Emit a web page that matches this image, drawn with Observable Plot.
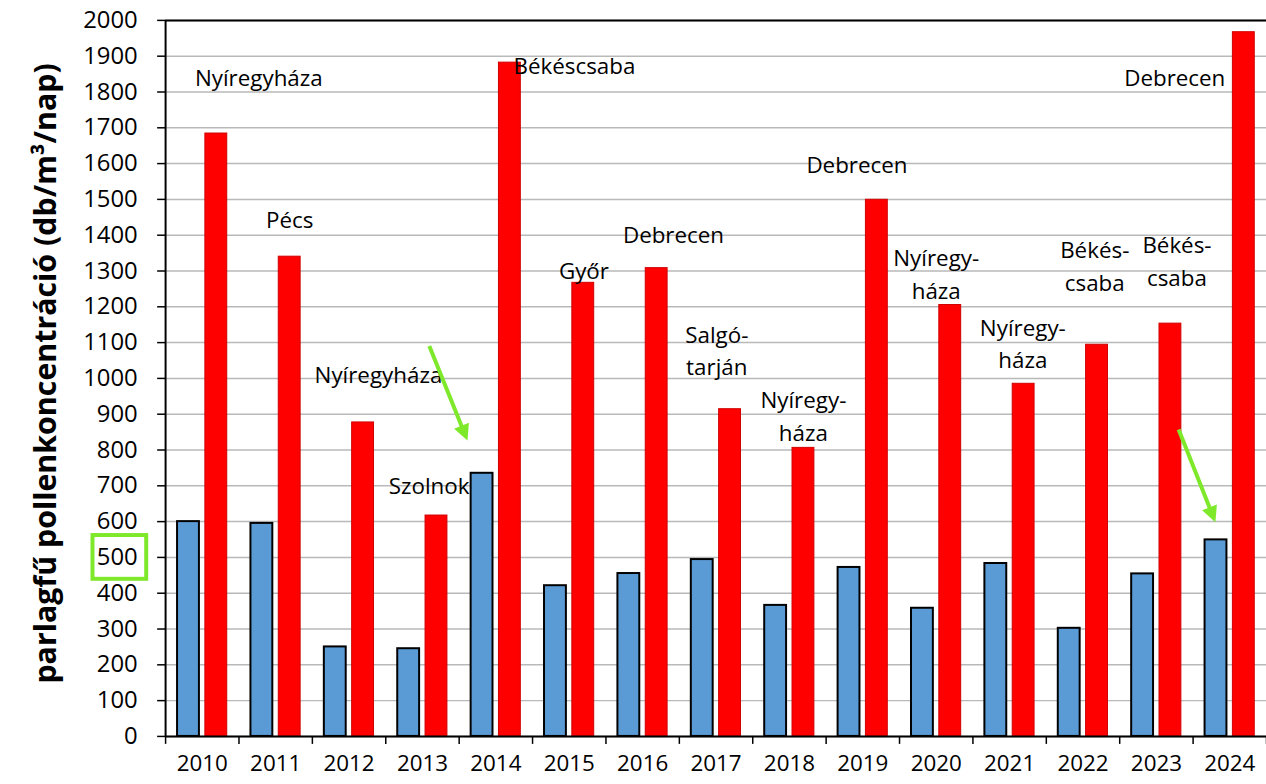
<!DOCTYPE html>
<html>
<head>
<meta charset="utf-8">
<script src="https://cdn.jsdelivr.net/npm/d3@7"></script>
<script src="https://cdn.jsdelivr.net/npm/@observablehq/plot@0.6"></script>
<style>
  html, body { margin: 0; padding: 0; background: #fff; overflow: hidden; }
  #chart svg { display: block; font-family: "Open Sans", sans-serif; }
</style>
</head>
<body>
<div id="chart"></div>
<script>
const years = [2010, 2011, 2012, 2013, 2014, 2015, 2016, 2017, 2018, 2019, 2020, 2021, 2022, 2023, 2024];
// Budapest (blue) and country maximum (red) daily ragweed pollen concentration
const blueValues = [600, 595, 250, 245, 735, 421, 455, 494, 366, 472, 358, 483, 302, 454, 549];
const redValues  = [1684, 1340, 877, 617, 1882, 1267, 1308, 914, 806, 1499, 1205, 985, 1094, 1153, 1967];
const yTicks = [0,100,200,300,400,500,600,700,800,900,1000,1100,1200,1300,1400,1500,1600,1700,1800,1900,2000];
const highlightTicks = [500];
const yLabel = "parlagfű pollenkoncentráció (db/m³/nap)";

const annotationTexts = ["Nyíregyháza", "Pécs", "Nyíregyháza", "Szolnok", "Békéscsaba", "Győr", "Debrecen",
  "Salgó-\ntarján", "Nyíregy-\nháza", "Debrecen", "Nyíregy-\nháza", "Nyíregy-\nháza", "Békés-\ncsaba", "Békés-\ncsaba", "Debrecen"];
const annotationX = [2010.77, 2011.19, 2012.40, 2013.09, 2015.07, 2015.20, 2016.42, 2017.01, 2018.19, 2018.92, 2020.00, 2021.18, 2022.16, 2023.28, 2023.25];
const annotationY = [1847, 1450, 1017, 706, 1878, 1306, 1408, 1083, 900, 1603, 1297, 1103, 1319, 1333, 1847];

const arrowX1 = [2013.10, 2023.31];
const arrowY1 = [1089, 856];
const arrowX2 = [2013.62, 2023.81];
const arrowY2 = [825, 597];

const blue = years.map((year, i) => ({year, value: blueValues[i]}));
const red = years.map((year, i) => ({year, value: redValues[i]}));
const annotations = annotationTexts.map((text, i) => ({text, x: annotationX[i], y: annotationY[i]}));
const arrows = arrowX1.map((x1, i) => ({x1, y1: arrowY1[i], x2: arrowX2[i], y2: arrowY2[i]}));
const boundaries = years.map(y => y - 0.5).concat([years[years.length - 1] + 0.5]);

const green = "#7ee82a";

const highlightMark = (index, scales) => {
  const g = d3.create("svg:g");
  for (const t of highlightTicks) {
    const cy = scales.y(t);
    g.append("rect")
      .attr("x", 93).attr("y", cy - 22)
      .attr("width", 54).attr("height", 44)
      .attr("fill", "none").attr("stroke", green).attr("stroke-width", 4);
  }
  return g.node();
};

const arrowMark = (index, scales) => {
  const g = d3.create("svg:g");
  for (const a of arrows) {
    const x1 = scales.x(a.x1), y1 = scales.y(a.y1), x2 = scales.x(a.x2), y2 = scales.y(a.y2);
    const len = Math.hypot(x2 - x1, y2 - y1);
    const ux = (x2 - x1) / len, uy = (y2 - y1) / len;
    const hl = 16, hw = 8;
    const bx = x2 - ux * hl, by = y2 - uy * hl;
    g.append("line").attr("x1", x1).attr("y1", y1).attr("x2", bx + ux * 2).attr("y2", by + uy * 2)
      .attr("stroke", green).attr("stroke-width", 4);
    g.append("polygon")
      .attr("points", [[x2, y2], [bx - uy * hw, by + ux * hw], [bx + uy * hw, by - ux * hw]].map(p => p.join(",")).join(" "))
      .attr("fill", green);
  }
  return g.node();
};

const chart = Plot.plot({
  width: 1273,
  height: 784,
  marginLeft: 166,
  marginRight: 0,
  marginTop: 20,
  marginBottom: 44,
  style: {fontFamily: "'Open Sans', sans-serif", color: "#000", background: "#fff"},
  x: {type: "linear", domain: [2009.5, 2024.5], axis: null, label: null},
  y: {domain: [0, 2000], axis: null, label: null},
  marks: [
    Plot.gridY(yTicks, {stroke: "#b9b9b9", strokeOpacity: 1, strokeWidth: 1.5}),
    Plot.rectY(blue, {x1: d => d.year - 0.337, x2: d => d.year - 0.039, y: "value", fill: "#5b9bd5", stroke: "#000", strokeWidth: 2, inset: 0}),
    Plot.rectY(red, {x1: d => d.year + 0.042, x2: d => d.year + 0.340, y: "value", fill: "#ff0000", stroke: "#d00000", strokeWidth: 1, inset: 0}),
    Plot.ruleY([0, 2000], {stroke: "#000", strokeWidth: 2}),
    Plot.ruleX([2009.5], {stroke: "#000", strokeWidth: 2}),
    Plot.axisY({ticks: yTicks, tickSize: 8, tickPadding: 20, fontSize: 24, tickFormat: d => String(d), label: null, stroke: "#000", strokeWidth: 1.5}),
    Plot.axisX({ticks: boundaries, tickSize: 8, tickFormat: () => "", label: null, strokeWidth: 1.5}),
    Plot.axisX({ticks: years, tickSize: 0, tickPadding: 19, tickFormat: d => String(d), fontSize: 22.5, label: null}),
    Plot.text(annotations, {x: "x", y: "y", text: "text", fontSize: 22.5, lineHeight: 1.45, fill: "#000", textAnchor: "middle", lineAnchor: "middle"}),
    arrowMark,
    Plot.text([yLabel], {frameAnchor: "left", dx: -120, dy: -5, rotate: -90, textAnchor: "middle", lineAnchor: "middle", fontSize: 30.5, fontWeight: "bold", fill: "#000"}),
    highlightMark
  ]
});
document.getElementById("chart").append(chart);
</script>
</body>
</html>
